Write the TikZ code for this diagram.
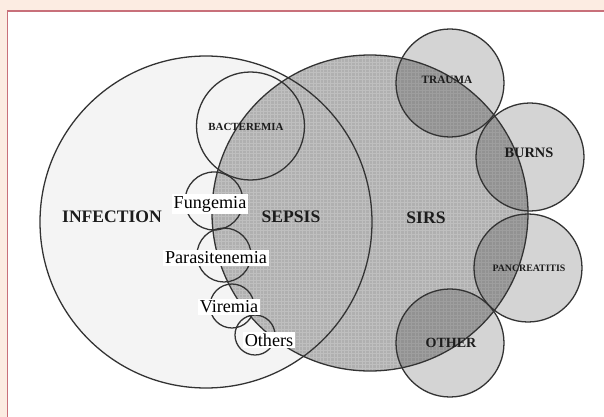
\documentclass[tikz,border=0pt]{standalone}
\usepackage{fontspec}
\setmainfont{Liberation Serif}
\usepackage{xcolor}
\usepackage{tikz}
\usetikzlibrary{patterns}

\definecolor{pagebg}{HTML}{FCECE2}
\definecolor{framered}{HTML}{C8707A}
\definecolor{sirsgray}{HTML}{B0B0B0}
\definecolor{infgray}{HTML}{F4F4F4}
\definecolor{inkgray}{HTML}{1C1C1C}

\tikzset{
    ring/.style={draw=inkgray!90, line width=1.1pt},
    bigword/.style={font=\fontsize{15}{15}\selectfont\bfseries, text=inkgray, inner sep=0pt},
    capword/.style={font=\fontsize{#1}{#1}\selectfont\bfseries, text=inkgray, inner sep=0pt},
    tagbox/.style={fill=white, font=\fontsize{15.5}{15.5}\selectfont, text=black, inner sep=1.5pt},
}

\begin{document}
\begin{tikzpicture}[x=0.03cm, y=-0.03cm]
        \useasboundingbox (0, 0) rectangle (604, 417);
        \clip (0, 0) rectangle (604, 417);

        % page and frame
        \fill[pagebg] (0, 0) rectangle (604, 417);
        \draw[framered, line width=1.6pt, fill=white] (7.5, 11) rectangle (650, 470);

        % centres
        \coordinate (infection) at (206, 222);
        \coordinate (bacteremia) at (250.5, 126);
        \coordinate (sirs) at (370, 213);
        \coordinate (fungemia) at (214, 201);
        \coordinate (parasitenemia) at (224, 255);
        \coordinate (viremia) at (232, 306);
        \coordinate (others) at (255, 335);
        \begin{scope}[name prefix=cause-]
            \coordinate (1) at (450, 83);
            \coordinate (2) at (530, 157);
            \coordinate (3) at (528, 268);
            \coordinate (4) at (450, 343);
        \end{scope}

        % fills
        \fill[infgray] (infection) circle (166);
        \fill[sirsgray] (sirs) circle (158);
        \fill[pattern=grid, pattern color=black!25] (sirs) circle (158);
        \foreach \i in {1, 2, 3, 4} {
            \fill[black, fill opacity=0.17] (cause-\i) circle (54);
        }

        % outlines
        \draw[ring] (infection) circle (166);
        \draw[ring] (sirs) circle (158);
        \draw[ring] (bacteremia) circle (54);
        \draw[ring] (fungemia) circle (29);
        \draw[ring] (parasitenemia) circle (27);
        \draw[ring] (viremia) circle (22);
        \draw[ring] (others) circle (20);
        \foreach \i in {1, 2, 3, 4} {
            \draw[ring] (cause-\i) circle (54);
        }

        % labels
        \node[bigword] (infection-label) at (112, 217) {INFECTION};
        \node[bigword] (sepsis-label) at (291, 217) {SEPSIS};
        \node[bigword] (sirs-label) at (426, 218) {SIRS};
        \node[capword=9.3] (bacteremia-label) at (246, 127) {BACTEREMIA};
        \node[capword=9.6] (trauma-label) at (447, 80) {TRAUMA};
        \node[capword=12.3] (burns-label) at (529, 153) {BURNS};
        \node[capword=8.4] (pancreatitis-label) at (529, 268) {PANCREATITIS};
        \node[capword=12] (other-label) at (451, 343) {OTHER};

        \node[tagbox] (fungemia-label) at (210, 204) {Fungemia};
        \node[tagbox] (parasitenemia-label) at (216, 258) {Parasitenemia};
        \node[tagbox] (viremia-label) at (229, 307) {Viremia};
        \node[tagbox] (others-label) at (269, 340) {Others};
    \end{tikzpicture}
\end{document}
